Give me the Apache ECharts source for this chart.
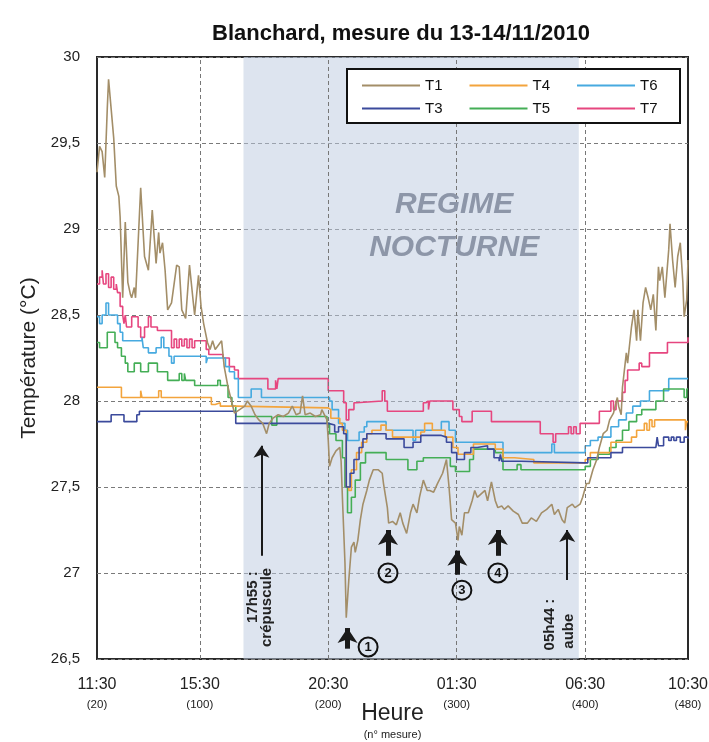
<!DOCTYPE html>
<html><head><meta charset="utf-8">
<script src="https://cdn.jsdelivr.net/npm/echarts@6/dist/echarts.min.js"></script>
<style>html,body{margin:0;padding:0;background:#fff}#c{width:709px;height:742px}</style>
</head><body><div id="c"></div>
<script>
// ---------------- DATA ----------------
const xTickValues = [20, 100, 200, 300, 400, 480];
const xTickTimes = ['11:30', '15:30', '20:30', '01:30', '06:30', '10:30'];
const legendRow1 = ['T1', 'T4', 'T6'];
const legendRow2 = ['T3', 'T5', 'T7'];

// [n° mesure, température]
const t1 = [[20,29.33],[22,29.48],[24,29.45],[26,29.30],[28,29.70],[29,29.87],[31,29.70],[33,29.53],[35,29.25],[37,29.19],[38,29.07],[40,28.60],[42,29.04],[44,28.69],[46,28.62],[47,28.60],[49,28.66],[50,28.60],[54,29.24],[57,28.84],[60,28.76],[63,29.11],[66,28.80],[68,28.98],[69,28.86],[71,28.92],[73,28.76],[75,28.53],[78,28.57],[82,28.79],[84,28.78],[86,28.53],[89,28.48],[92,28.79],[95,28.57],[96,28.50],[99,28.73],[101,28.55],[103,28.45],[106,28.34],[108,28.30],[110,28.35],[112,28.30],[115,28.33],[117,28.35],[119,28.20],[122,28.08],[125,27.99],[127,27.93],[131,27.95],[135,27.97],[137,28.00],[140,27.97],[143,27.92],[146,27.89],[149,27.87],[152,27.81],[154,27.87],[157,27.90],[161,27.92],[165,27.91],[169,27.93],[172,27.97],[175,27.92],[178,27.93],[180,28.03],[182,27.92],[186,27.93],[190,27.91],[194,27.92],[195,27.95],[199,27.89],[200,27.77],[201,27.62],[203,27.67],[206,27.71],[209,27.73],[210,27.65],[211,27.44],[213,27.06],[214,26.74],[216,26.96],[218,27.15],[220,27.18],[221,27.12],[223,27.19],[225,27.31],[227,27.40],[230,27.48],[232,27.54],[235,27.60],[239,27.60],[242,27.58],[243,27.52],[246,27.38],[247,27.29],[250,27.30],[253,27.28],[256,27.35],[258,27.29],[261,27.23],[264,27.35],[266,27.40],[269,27.35],[271,27.44],[274,27.54],[277,27.48],[279,27.48],[282,27.47],[285,27.52],[289,27.58],[292,27.66],[294,27.50],[296,27.31],[299,27.29],[301,27.19],[302,27.27],[304,27.22],[306,27.35],[309,27.35],[312,27.42],[314,27.48],[316,27.44],[319,27.46],[322,27.48],[324,27.42],[327,27.53],[330,27.42],[332,27.38],[335,27.39],[337,27.37],[340,27.39],[344,27.36],[348,27.34],[351,27.29],[355,27.29],[358,27.32],[362,27.30],[366,27.35],[370,27.37],[374,27.40],[376,27.34],[379,27.37],[382,27.31],[384,27.29],[386,27.38],[390,27.40],[392,27.38],[396,27.40],[398,27.44],[401,27.52],[403,27.52],[406,27.60],[409,27.66],[411,27.73],[414,27.81],[417,27.83],[419,27.89],[422,27.93],[425,28.02],[426,27.97],[428,27.92],[429,28.08],[432,28.28],[433,28.22],[436,28.43],[438,28.53],[440,28.35],[441,28.53],[443,28.35],[445,28.57],[447,28.66],[449,28.60],[451,28.53],[453,28.62],[455,28.41],[457,28.78],[458,28.70],[460,28.78],[462,28.60],[465,28.88],[466,29.03],[468,28.82],[470,28.66],[472,28.84],[474,28.92],[476,28.69],[477,28.49],[479,28.59],[480,28.82]];

const t3 = [[20,27.88],[31,27.92],[41,27.88],[51,27.92],[53,27.94],[128,27.87],[200,27.86],[205,27.82],[208,27.85],[212,27.81],[214,27.50],[217,27.58],[220,27.66],[224,27.73],[227,27.78],[230,27.81],[242,27.81],[245,27.78],[259,27.73],[266,27.76],[272,27.80],[288,27.79],[292,27.76],[296,27.70],[300,27.66],[306,27.70],[311,27.73],[316,27.74],[324,27.72],[329,27.67],[333,27.65],[334,27.69],[335,27.65],[350,27.64],[400,27.64],[402,27.67],[420,27.70],[429,27.73],[455,27.73],[456,27.79],[457,27.74],[461,27.79],[465,27.77],[467,27.79],[469,27.77],[471,27.79],[474,27.76],[477,27.79],[480,27.78]];

const t4 = [[20,28.08],[39,28.02],[54,28.06],[55,28.02],[68,28.06],[70,28.02],[105,28.02],[109,27.98],[112,27.99],[116,27.97],[127,27.96],[200,27.95],[202,27.90],[209,27.87],[211,27.83],[214,27.50],[216,27.48],[218,27.60],[222,27.70],[226,27.76],[230,27.81],[234,27.83],[241,27.86],[245,27.83],[250,27.79],[272,27.82],[275,27.87],[281,27.83],[291,27.79],[297,27.73],[301,27.69],[306,27.69],[313,27.75],[330,27.72],[336,27.67],[345,27.66],[360,27.64],[400,27.66],[404,27.70],[420,27.76],[436,27.79],[440,27.83],[446,27.87],[448,27.83],[450,27.89],[452,27.85],[454,27.89],[476,27.89],[478,27.83],[479,27.88],[480,27.88]];

const t5 = [[20,28.34],[22,28.31],[28,28.40],[34,28.34],[36,28.31],[39,28.26],[42,28.22],[44,28.17],[49,28.22],[54,28.17],[60,28.22],[67,28.17],[75,28.12],[84,28.16],[86,28.12],[88,28.16],[89,28.12],[96,28.09],[114,28.12],[116,28.09],[122,28.02],[125,27.97],[128,27.91],[156,27.86],[160,27.91],[199,27.87],[201,27.81],[206,27.77],[211,27.67],[213,27.50],[215,27.35],[218,27.44],[221,27.54],[225,27.64],[229,27.70],[245,27.66],[262,27.60],[269,27.65],[274,27.67],[295,27.62],[299,27.59],[310,27.66],[313,27.72],[330,27.70],[336,27.60],[347,27.63],[350,27.60],[400,27.62],[404,27.66],[410,27.69],[419,27.73],[424,27.77],[429,27.83],[434,27.88],[440,27.92],[444,27.95],[455,28.00],[461,28.07],[477,28.02],[479,28.07],[480,28.07]];

const t6 = [[20,28.49],[22,28.45],[24,28.50],[27,28.57],[29,28.50],[36,28.45],[38,28.40],[40,28.35],[55,28.37],[56,28.31],[60,28.28],[66,28.31],[70,28.37],[72,28.31],[76,28.26],[78,28.22],[80,28.26],[105,28.22],[106,28.25],[120,28.20],[123,28.17],[127,28.13],[130,28.02],[140,28.07],[148,28.02],[201,28.00],[203,27.95],[208,27.87],[213,27.83],[215,27.77],[224,27.82],[228,27.85],[230,27.88],[242,27.88],[245,27.83],[266,27.77],[268,27.83],[288,27.88],[294,27.83],[299,27.76],[336,27.70],[374,27.75],[376,27.70],[400,27.74],[404,27.77],[410,27.79],[420,27.85],[426,27.89],[432,27.93],[437,27.97],[443,28.00],[450,28.06],[465,28.13],[480,28.13]];

const t7 = [[20,28.68],[22,28.72],[24,28.76],[25,28.68],[27,28.74],[29,28.66],[31,28.72],[33,28.65],[35,28.68],[36,28.63],[38,28.55],[40,28.50],[41,28.45],[42,28.50],[43,28.43],[47,28.49],[52,28.43],[54,28.37],[57,28.43],[60,28.49],[62,28.43],[67,28.41],[76,28.41],[78,28.31],[80,28.36],[82,28.31],[84,28.36],[86,28.32],[88,28.36],[90,28.31],[92,28.36],[94,28.31],[96,28.35],[100,28.35],[105,28.30],[107,28.27],[118,28.25],[123,28.20],[127,28.18],[130,28.13],[153,28.07],[159,28.12],[160,28.07],[161,28.13],[200,28.06],[212,27.99],[214,27.89],[216,27.95],[220,27.99],[222,28.00],[242,28.06],[244,28.00],[246,27.94],[274,27.99],[276,28.00],[278,27.95],[279,28.00],[297,27.95],[302,27.91],[304,27.88],[312,27.94],[327,27.88],[365,27.81],[375,27.76],[377,27.81],[387,27.85],[389,27.81],[391,27.85],[393,27.81],[396,27.87],[411,27.94],[420,28.00],[422,27.95],[424,28.00],[429,28.05],[431,28.12],[433,28.18],[442,28.22],[444,28.20],[450,28.28],[464,28.34],[480,28.37]];

const nightBand = [134, 395];
const gridXValues = [100, 200, 300, 400];

// ---------------- STYLE / ANNOTATIONS ----------------
const FONT = '"Liberation Sans", Arial, sans-serif';
const colors = { T1:'#a38e68', T3:'#3b4a9c', T4:'#f3a43c', T5:'#44ae56', T6:'#47aae0', T7:'#e6467f' };
const seriesData = { T1:t1, T3:t3, T4:t4, T5:t5, T6:t6, T7:t7 };
const drawOrder = ['T7', 'T6', 'T5', 'T4', 'T3', 'T1'];

const thinArrows = [[148, 27.10, 27.74], [386, 26.96, 27.25]];
const thickArrows = [[215, 26.56, 26.68], [246.5, 27.10, 27.25], [300.5, 26.99, 27.13], [332, 27.10, 27.25]];
const circled = [['1', 231, 26.57], ['2', 246.5, 27.0], ['3', 304, 26.9], ['4', 332, 27.0]];
const regimeText = [['REGIME', 298, 29.14], ['NOCTURNE', 298, 28.89]];
const verticalNotes = [
  { text:'17h55 :', x:141.5, y:27.01, align:'right' },
  { text:'crépuscule', x:152.3, y:27.03, align:'right' },
  { text:'05h44 :', x:372.5, y:26.55, align:'left' },
  { text:'aube', x:387.3, y:26.56, align:'left' }
];

const chart = echarts.init(document.getElementById('c'), null, { renderer:'canvas' });

const lineSeries = drawOrder.map((n, i) => {
  const s = {
    name:n, type:'line', data:seriesData[n], symbol:'none', showSymbol:false, silent:true,
    lineStyle:{ color:colors[n], width:1.6 }, itemStyle:{ color:colors[n] }, z:3 + i
  };
  if (n !== 'T1') s.step = 'end';
  return s;
});

const legendCommon = {
  left:362, padding:0, itemWidth:58, itemHeight:2, itemGap:27, z:6, icon:'rect',
  textStyle:{ fontSize:15, color:'#111', fontFamily:FONT, width:18 }
};

const option = {
  animation:false,
  backgroundColor:'#fff',
  textStyle:{ fontFamily:FONT },
  title:{ text:'Blanchard, mesure du 13-14/11/2010', left:207, top:18,
    textStyle:{ fontSize:22, fontWeight:'bold', color:'#111', fontFamily:FONT } },
  legend:[
    Object.assign({ data:legendRow1, top:78 }, legendCommon),
    Object.assign({ data:legendRow2, top:101 }, legendCommon)
  ],
  grid:{ left:97, right:21, top:57, bottom:83, containLabel:false, outerBoundsMode:'none',
    show:true, borderColor:'#2a2a2a', borderWidth:2, backgroundColor:'transparent' },
  xAxis:{
    type:'value', min:20, max:480, interval:20,
    axisLine:{ show:false }, axisTick:{ show:false }, splitLine:{ show:false },
    axisLabel:{ margin:15, showMinLabel:true, showMaxLabel:true,
      formatter:v => { const i = xTickValues.indexOf(v); return i < 0 ? '' : '{t|' + xTickTimes[i] + '}\n{n|(' + v + ')}'; },
      rich:{ t:{ fontSize:16, color:'#222', lineHeight:22, fontFamily:FONT }, n:{ fontSize:11.5, color:'#222', lineHeight:18, fontFamily:FONT } } },
    name:'{h|Heure}\n{m|(n° mesure)}', nameLocation:'middle', nameGap:42, nameMoveOverlap:false,
    nameTextStyle:{ rich:{ h:{ fontSize:23, color:'#222', lineHeight:26, fontFamily:FONT }, m:{ fontSize:11, color:'#222', lineHeight:16, fontFamily:FONT } } }
  },
  yAxis:{
    type:'value', min:26.5, max:30, interval:0.5,
    axisLine:{ show:false }, axisTick:{ show:false },
    axisLabel:{ fontSize:15, color:'#222', margin:17, formatter:v => String(v).replace('.', ',') },
    splitLine:{ lineStyle:{ color:'#7a7a7a', type:[4, 3], width:1 } },
    name:'Température (°C)', nameLocation:'middle', nameGap:57, nameMoveOverlap:false,
    nameTextStyle:{ fontSize:21, color:'#222', fontFamily:FONT }
  },
  series:[
    { type:'line', data:[], z:1, silent:true,
      markArea:{ silent:true, itemStyle:{ color:'rgba(187,201,223,0.5)' },
        data:[[{ xAxis:nightBand[0] }, { xAxis:nightBand[1] }]] },
      markLine:{ silent:true, symbol:'none', label:{ show:false },
        lineStyle:{ color:'#777', type:[4, 3], width:1 },
        data:gridXValues.map(v => ({ xAxis:v })) },
      markPoint:{ silent:true, symbol:'circle', symbolSize:0,
        label:{ show:true, position:'inside', fontSize:30, fontWeight:'bold', fontStyle:'italic', color:'#8d96a8', fontFamily:FONT, formatter:p => p.name },
        data:regimeText.map(r => ({ name:r[0], coord:[r[1], r[2]] })) }
    },
    ...lineSeries,
    { type:'line', data:[], z:20, silent:true,
      markLine:{ silent:true, symbol:['none', 'arrow'], symbolSize:12, label:{ show:false },
        lineStyle:{ color:'#1a1a1a', type:'solid', width:2 },
        data:thinArrows.map(a => [{ coord:[a[0], a[1]] }, { coord:[a[0], a[2]] }]) }
    },
    { type:'line', data:[], z:20, silent:true,
      markLine:{ silent:true, symbol:['none', 'arrow'], symbolSize:15, label:{ show:false },
        lineStyle:{ color:'#1a1a1a', type:'solid', width:5 },
        data:thickArrows.map(a => [{ coord:[a[0], a[1]] }, { coord:[a[0], a[2]] }]) },
      markPoint:{ silent:true, symbol:'circle', symbolSize:19,
        itemStyle:{ color:'rgba(0,0,0,0)', borderColor:'#111', borderWidth:2 },
        label:{ show:true, position:'inside', fontSize:13, fontWeight:'bold', color:'#111', fontFamily:FONT, formatter:p => p.name },
        data:circled.map(c => ({ name:c[0], coord:[c[1], c[2]] })) }
    }
  ]
};
chart.setOption(option);

// legend frame + vertical notes, positioned through the chart's own scales
const graphics = [{ id:'legendBox', type:'rect', z:5, shape:{ x:347, y:69, width:333, height:54 },
  style:{ fill:'#fff', stroke:'#111', lineWidth:2 } }];
verticalNotes.forEach((n, i) => {
  const p = chart.convertToPixel({ gridIndex:0 }, [n.x, n.y]);
  graphics.push({ id:'note' + i, type:'text', x:p[0], y:p[1], rotation:Math.PI / 2, z:30,
    style:{ text:n.text, font:'bold 15px "Liberation Sans", Arial, sans-serif', fill:'#222',
      textAlign:n.align, textVerticalAlign:'middle', verticalAlign:'middle' } });
});
chart.setOption({ graphic:graphics });
</script></body></html>
